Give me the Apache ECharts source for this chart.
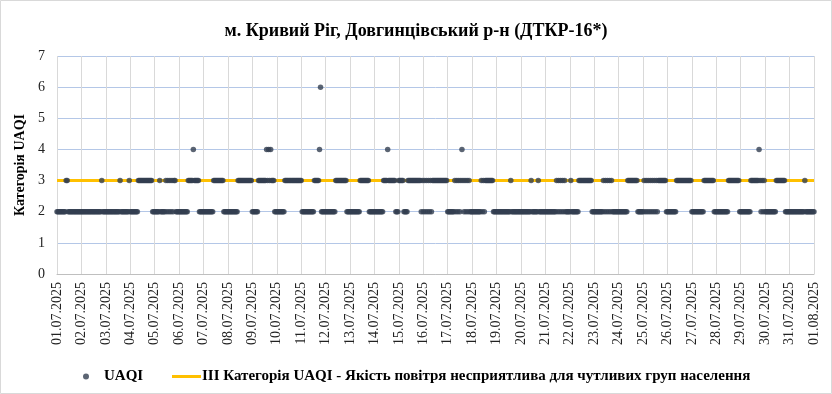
<!DOCTYPE html>
<html><head><meta charset="utf-8">
<script src="https://cdn.jsdelivr.net/npm/echarts@6/dist/echarts.min.js"></script>
<style>html,body{margin:0;padding:0;background:#fff}#c{width:832px;height:394px}</style>
</head><body><div id="c"></div><script>
const titleText = 'м. Кривий Ріг, Довгинцівський р-н (ДТКР-16*)';
const yAxisName = 'Категорія UAQI';
const seriesName = 'UAQI';
const thresholdName = 'III Категорія UAQI - Якість повітря несприятлива для чутливих груп населення';
const thresholdValue = 3;
const dayLabels = ['01.07.2025','02.07.2025','03.07.2025','04.07.2025','05.07.2025','06.07.2025','07.07.2025','08.07.2025','09.07.2025','10.07.2025','11.07.2025','12.07.2025','13.07.2025','14.07.2025','15.07.2025','16.07.2025','17.07.2025','18.07.2025','19.07.2025','20.07.2025','21.07.2025','22.07.2025','23.07.2025','24.07.2025','25.07.2025','26.07.2025','27.07.2025','28.07.2025','29.07.2025','30.07.2025','31.07.2025','01.08.2025'];
const yTicks = [0,1,2,3,4,5,6,7];
// hourly UAQI, one row per day (00:00..23:00)
const uaqiByDay = [
[2,2,2,2,2,2,2,2,2,3,3,2,2,2,2,2,2,2,2,2,2,2,2,2],
[2,2,2,2,2,2,2,2,2,2,2,2,2,2,2,2,2,2,2,2,3,2,2,2],
[2,2,2,2,2,2,2,2,2,2,2,2,2,2,3,2,2,2,2,2,2,2,2,3],
[2,2,2,2,2,2,2,2,3,3,3,3,3,3,3,3,3,3,3,3,3,3,2,2],
[2,2,2,2,2,3,2,2,2,2,2,3,2,3,2,3,2,3,2,3,3,2,2,2],
[2,2,2,2,2,2,2,2,2,3,3,3,3,3,4,3,3,3,3,3,2,2,2,2],
[2,2,2,2,2,2,2,2,2,2,3,3,3,3,3,3,3,3,3,3,2,2,2,2],
[2,2,2,2,2,2,2,2,2,2,3,3,3,3,3,3,3,3,3,3,3,3,3,3],
[2,2,2,2,2,2,3,3,3,3,3,3,3,3,4,3,4,3,4,3,3,3,2,2],
[2,2,2,2,2,2,2,2,3,3,3,3,3,3,3,3,3,3,3,3,3,3,3,3],
[3,2,2,2,2,2,2,2,2,2,2,2,2,3,3,3,3,3,4,6,2,2,2,2],
[2,2,2,2,2,2,2,2,2,2,3,3,3,3,3,3,3,3,3,3,3,2,2,2],
[2,2,2,2,2,2,2,2,2,2,3,3,3,3,3,3,3,3,3,2,2,2,2,2],
[2,2,2,2,2,2,2,2,2,3,3,3,3,4,3,3,3,3,3,3,3,2,2,2],
[3,3,3,3,3,2,2,2,2,3,3,3,3,3,3,3,3,3,3,3,3,3,2,3],
[2,3,2,3,2,3,2,3,2,3,3,3,3,3,3,3,3,3,3,3,3,3,3,3],
[2,2,2,2,2,2,2,3,2,3,2,3,2,3,4,3,2,3,2,3,2,3,2,2],
[2,2,2,2,2,2,2,2,2,3,2,3,2,3,3,3,3,3,3,3,3,2,2,2],
[2,2,2,2,2,2,2,2,2,2,2,2,2,2,3,2,2,2,2,2,2,2,2,2],
[2,2,2,2,2,2,2,2,2,2,3,2,2,2,2,2,2,3,2,2,2,2,2,2],
[2,2,2,2,2,2,2,2,2,2,2,3,2,3,2,3,2,3,2,3,2,2,2,2],
[2,3,2,2,2,2,2,2,2,3,3,3,3,3,3,3,3,3,3,3,3,3,2,2],
[2,2,2,2,2,2,2,2,2,3,2,3,2,3,2,3,2,3,2,2,2,2,2,2],
[2,2,2,2,2,2,2,2,2,3,3,3,3,3,3,3,3,3,3,2,2,2,2,2],
[2,3,2,3,2,3,2,3,2,3,2,3,2,3,2,3,3,3,3,3,3,3,3,2],
[2,2,2,2,2,2,2,2,2,3,3,3,3,3,3,3,3,3,3,3,3,3,3,3],
[2,2,2,2,2,2,2,2,2,2,2,2,3,3,3,3,3,3,3,3,3,3,2,2],
[2,2,2,2,2,2,2,2,2,2,2,2,3,3,3,3,3,3,3,3,3,3,3,2],
[2,2,2,2,2,2,2,2,2,2,3,3,3,3,3,3,3,3,4,3,2,3,2,3],
[2,2,2,2,2,2,2,2,2,2,2,3,3,3,3,3,3,3,3,3,2,2,2,2],
[2,2,2,2,2,2,2,2,2,2,2,2,2,2,2,3,2,2,2,2,2,2,2,2]
];
const uaqiLast = [2]; // 01.08.2025 00:00

const hours = [];
dayLabels.forEach((d, i) => {
  const n = i === dayLabels.length - 1 ? 1 : 24;
  for (let h = 0; h < n; h++) hours.push(d + ' ' + String(h).padStart(2, '0') + ':00');
});
const uaqi = uaqiByDay.flat().concat(uaqiLast);
const threshold = hours.map(() => thresholdValue);
const isDay = (idx) => idx % 24 === 0;

const chart = echarts.init(document.getElementById('c'), null, {renderer: 'canvas'});
const serif = '"Liberation Serif", "Times New Roman", serif';
chart.setOption({
  backgroundColor: '#fff',
  animation: false,
  title: {
    text: titleText, left: 'center', top: 17,
    textStyle: {fontFamily: serif, fontSize: 18, fontWeight: 'bold', color: '#000'}
  },
  graphic: [{type: 'rect', shape: {x: 0.5, y: 0.5, width: 831, height: 393}, style: {fill: 'none', stroke: '#d9d9d9', lineWidth: 1}, silent: true}],
  legend: [{
    data: [{name: seriesName, icon: 'circle'}],
    left: 83, top: 369, padding: 0, itemWidth: 6, itemHeight: 6,
    textStyle: {fontFamily: serif, fontSize: 15, fontWeight: 'bold', color: '#000', padding: [0, 0, 0, 10]}
  }, {
    data: [{name: thresholdName, icon: 'rect'}],
    left: 172, top: 369, padding: 0, itemWidth: 29, itemHeight: 3,
    textStyle: {fontFamily: serif, fontSize: 15, fontWeight: 'bold', color: '#000', padding: [0, 0, 0, -4]}
  }],
  grid: {left: 57, right: 18, top: 56, bottom: 120, containLabel: false},
  xAxis: {
    type: 'category', data: hours, boundaryGap: false,
    axisLine: {show: true, lineStyle: {color: '#bfbfbf'}},
    axisTick: {show: false},
    axisLabel: {interval: (i) => isDay(i), rotate: 90, margin: 8, formatter: (v) => v.slice(0, 10),
      fontFamily: serif, fontSize: 14, color: '#222'},
    splitLine: {show: true, interval: (i) => isDay(i), lineStyle: {color: '#d9d9d9', width: 1}}
  },
  yAxis: {
    type: 'value', min: yTicks[0], max: yTicks[yTicks.length - 1], interval: 1,
    name: yAxisName, nameLocation: 'middle', nameGap: 24, nameRotate: 90,
    nameTextStyle: {fontFamily: serif, fontSize: 14, fontWeight: 'bold', color: '#000'},
    axisLine: {show: false}, axisTick: {show: false},
    axisLabel: {fontFamily: serif, fontSize: 14, color: '#222', margin: 12},
    splitLine: {show: true, lineStyle: {color: '#b4c7e7', width: 1}}
  },
  series: [{
    name: thresholdName, type: 'line', data: threshold, showSymbol: false, symbol: 'none',
    color: '#ffc000', lineStyle: {color: '#ffc000', width: 3}, z: 1
  }, {
    name: seriesName, type: 'scatter', data: uaqi, symbol: 'circle', symbolSize: 5.5,
    color: '#333f50', itemStyle: {color: '#333f50'}, z: 3
  }]
});
</script></body></html>
